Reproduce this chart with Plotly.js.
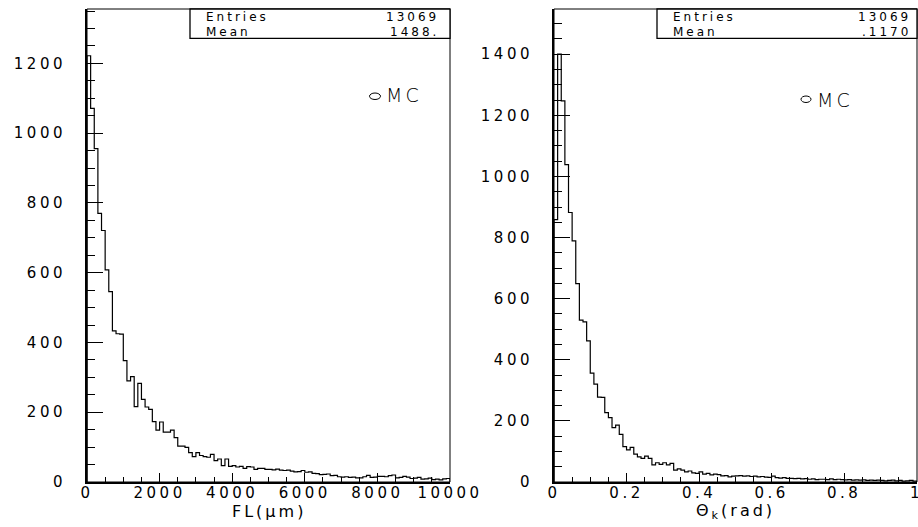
<!DOCTYPE html>
<html><head><meta charset="utf-8">
<script src="https://cdn.plot.ly/plotly-3.0.1.min.js"></script>
<style>
html,body{margin:0;padding:0;background:#fff;}
#chart{width:918px;height:527px;}
g.xtick text, g.ytick text, g.x2tick text, g.y2tick text {letter-spacing:3.5px;}
.annotation-text {letter-spacing:3px;}
</style></head><body><div id="chart"></div>
<script>
// ---- data ----
const flRange = [0, 10000];
const flCounts = [
 1222,1071,956,770,721,608,546,433,425,424,
 348,290,302,216,283,237,215,208,173,149,
 172,143,143,149,127,103,103,99,84,73,
 84,76,73,71,79,61,66,47,66,45,
 47,43,45,39,44,43,36,39,39,36,
 36,35,37,34,33,34,31,29,30,33,
 28,29,25,24,21,22,23,18,19,15,
 14,15,13,14,12,12,15,19,13,14,
 16,16,15,18,20,12,13,16,14,10,
 11,13,8,9,11,7,8,6,9,10];
const thRange = [0, 1];
const thCounts = [
 859,1400,1247,1039,882,789,649,530,524,462,
 356,320,278,277,227,211,178,186,156,116,
 105,113,91,82,77,85,77,56,63,58,
 63,56,61,39,43,39,33,36,30,28,
 33,26,28,23,26,24,20,21,17,19,
 20,21,19,20,18,19,17,18,16,15,
 19,14,13,14,12,12,11,12,10,11,
 9,10,8,9,9,8,10,8,9,8,
 7,8,6,7,6,7,5,6,5,6,
 5,4,5,6,4,5,3,4,5,3];
const statsLabels = ['Entries', 'Mean'];
const flStats = ['13069', '1488.'];
const thStats = ['13069', '.1170'];
const seriesName = 'MC';
const flTitle = 'FL(μm)';
const thTitle = 'Θ<sub>k</sub>(rad)';

// ---- helpers ----
function steps(counts, range) {
  const n = counts.length, w = (range[1] - range[0]) / n;
  const x = [range[0]], y = [0];
  for (let i = 0; i < n; i++) { x.push(range[0] + i * w); y.push(counts[i]); }
  x.push(range[1]); y.push(counts[n - 1]);
  x.push(range[1]); y.push(0);
  return {x, y};
}
const W = 918, H = 527;
const px = v => v / W, py = v => 1 - v / H;
const FONT = 'DejaVu Sans';

const s1 = steps(flCounts, flRange), s2 = steps(thCounts, thRange);
const traces = [
  {type:'scatter', mode:'lines', x:s1.x, y:s1.y, xaxis:'x', yaxis:'y',
   line:{shape:'hv', color:'#000', width:1.2}, hoverinfo:'skip', showlegend:false},
  {type:'scatter', mode:'lines', x:s2.x, y:s2.y, xaxis:'x2', yaxis:'y2',
   line:{shape:'hv', color:'#000', width:1.2}, hoverinfo:'skip', showlegend:false}
];

const tickFont = {family:FONT, size:15, color:'#000'};
function xax(domain, range, dtick, minorDtick, fmt, anchor) {
  return {domain, range, anchor, dtick, tick0:0, ticks:'inside', ticklen:9, tickwidth:1, tickcolor:'#000',
    minor:{dtick:minorDtick, ticks:'inside', ticklen:5, tickwidth:1, tickcolor:'#000', showgrid:false},
    showline:true, linewidth:2, linecolor:'#000', showgrid:false, zeroline:false,
    tickformat:fmt, tickfont:tickFont, ticklabelstandoff:-4, ticklabeloverflow:'allow',
    fixedrange:true, automargin:false};
}
function yax(domain, range, anchor) {
  return {domain, range, anchor, dtick:200, tick0:0, ticks:'inside', ticklen:16, tickwidth:1, tickcolor:'#000',
    minor:{dtick:50, ticks:'inside', ticklen:8, tickwidth:1, tickcolor:'#000', showgrid:false},
    showline:true, linewidth:2, linecolor:'#000', showgrid:false, zeroline:false,
    tickfont:tickFont, ticklabelstandoff:16, fixedrange:true, automargin:false};
}
const yDom = [py(482), py(9)];
const layout = {
  width:W, height:H, margin:{l:0, r:0, t:0, b:0}, paper_bgcolor:'#fff', plot_bgcolor:'#fff',
  showlegend:false,
  xaxis: xax([px(87), px(450)], flRange, 2000, 500, 'd', 'y'),
  yaxis: yax(yDom, [0, 1356], 'x'),
  xaxis2: xax([px(554), px(917)], [thRange[0], thRange[1] + 0.001], 0.2, 0.05, '', 'y2'),
  yaxis2: yax(yDom, [0, 1548], 'x2'),
  shapes: [
    {type:'rect', xref:'x domain', yref:'y domain', x0:0, x1:1, y0:0, y1:1, line:{color:'#000', width:1}},
    {type:'rect', xref:'x2 domain', yref:'y2 domain', x0:0, x1:1, y0:0, y1:1, line:{color:'#000', width:1}},
    {type:'rect', xref:'paper', yref:'paper', x0:px(190), x1:px(450), y0:py(38.3), y1:py(9), line:{color:'#000', width:1.3}, fillcolor:'#fff'},
    {type:'rect', xref:'paper', yref:'paper', x0:px(657), x1:px(917), y0:py(38.3), y1:py(9), line:{color:'#000', width:1.3}, fillcolor:'#fff'},
    {type:'circle', xref:'paper', yref:'paper', x0:px(369.5), x1:px(380.5), y0:py(99.5), y1:py(93), line:{color:'#000', width:1}},
    {type:'circle', xref:'paper', yref:'paper', x0:px(801), x1:px(811), y0:py(102.5), y1:py(96), line:{color:'#000', width:1}}
  ],
  annotations: []
};
const statFont = {family:FONT, size:12, color:'#000'};
const rowsY = [16.7, 32];
[[205, 440, flStats], [672, 912, thStats]].forEach(([lx, rx, vals]) => {
  statsLabels.forEach((lab, i) => {
    layout.annotations.push({xref:'paper', yref:'paper', x:px(lx), y:py(rowsY[i]), xanchor:'left', yanchor:'middle',
      text:lab, showarrow:false, font:statFont, borderpad:0});
    layout.annotations.push({xref:'paper', yref:'paper', x:px(rx), y:py(rowsY[i]), xanchor:'right', yanchor:'middle',
      text:vals[i], showarrow:false, font:statFont, borderpad:0});
  });
});
[[385, 95], [816, 100]].forEach(([lx, cy]) => {
  layout.annotations.push({xref:'paper', yref:'paper', x:px(lx), y:py(cy), xanchor:'left', yanchor:'middle',
    text:seriesName, showarrow:false, font:{family:FONT, size:19, color:'#000', weight:300}, borderpad:0});
});
// axis titles
[['x domain', flTitle], ['x2 domain', thTitle]].forEach(([xr, t]) => {
  layout.annotations.push({xref:xr, yref:'paper', x:0.5, y:py(511), xanchor:'center', yanchor:'middle',
    text:t, showarrow:false, font:{family:FONT, size:16, color:'#000'}, borderpad:0});
});
Plotly.newPlot('chart', traces, layout, {displayModeBar:false, staticPlot:true});
</script></body></html>
